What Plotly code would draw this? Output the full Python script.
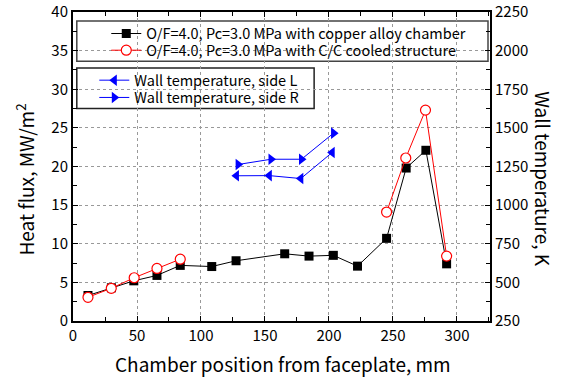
import plotly.graph_objects as go

# ---- data ----
cu_x = [11.7, 30.0, 47.5, 65.6, 83.8, 108.4, 127.4, 165.4, 184.4, 203.4, 222.3, 245.0, 260.3, 275.7, 291.9]
cu_y = [3.3, 4.3, 5.2, 5.9, 7.2, 7.05, 7.8, 8.7, 8.4, 8.5, 7.1, 10.7, 19.8, 22.1, 7.4]

cc_x = [11.7, 29.9, 47.8, 65.6, 83.8, None, 245.0, 260.0, 275.4, 291.9]
cc_y = [3.07, 4.23, 5.6, 6.8, 8.0, None, 14.1, 21.1, 27.3, 8.4]

wl_x = [127.7, 153.4, 178.0, 202.5]
wl_t = [1190, 1191, 1172, 1341]

wr_x = [129.0, 154.7, 178.5, 203.6]
wr_t = [1263, 1297, 1297, 1466]

FONT = "Noto Sans CJK JP"

fig = go.Figure()
fig.add_trace(go.Scatter(x=cu_x, y=cu_y, mode="lines+markers",
                         name="O/F=4.0, Pc=3.0 MPa with copper alloy chamber",
                         line=dict(color="black", width=1),
                         marker=dict(symbol="square", size=9, color="black"),
                         legend="legend"))
fig.add_trace(go.Scatter(x=cc_x, y=cc_y, mode="lines+markers",
                         name="O/F=4.0, Pc=3.0 MPa with C/C cooled structure",
                         line=dict(color="red", width=1),
                         marker=dict(symbol="circle", size=10, color="white",
                                     line=dict(color="red", width=1.2)),
                         connectgaps=False, legend="legend2"))
fig.add_trace(go.Scatter(x=wl_x, y=wl_t, mode="lines+markers", yaxis="y2",
                         name="Wall temperature, side L",
                         line=dict(color="blue", width=1),
                         marker=dict(symbol="triangle-left", size=10, color="blue"),
                         legend="legend3"))
fig.add_trace(go.Scatter(x=wr_x, y=wr_t, mode="lines+markers", yaxis="y2",
                         name="Wall temperature, side R",
                         line=dict(color="blue", width=1),
                         marker=dict(symbol="triangle-right", size=10, color="blue"),
                         legend="legend4"))

# plot-area edges in window pixels
L, R, T, B = 72.7, 490.0, 11.7, 321.0
W, H = 562, 378
pw, ph = R - L, B - T

def px(x):
    return (x - L) / pw

def py(y):
    return (B - y) / ph

def leg(xp, yp):
    return dict(x=px(xp), y=py(yp), xanchor="left", yanchor="middle",
                bgcolor="rgba(0,0,0,0)", borderwidth=0,
                font=dict(family=FONT, size=14.5), itemwidth=30, tracegroupgap=0)

fig.update_layout(
    width=W, height=H,
    margin=dict(l=L, r=W - R, t=T, b=H - B, autoexpand=False),
    paper_bgcolor="white", plot_bgcolor="white",
    font=dict(family=FONT, size=15, color="black"),
    showlegend=True,
    xaxis=dict(range=[0, 325.8], tickvals=[0, 50, 100, 150, 200, 250, 300],
               showgrid=True, gridcolor="#999", griddash="dot", gridwidth=1,
               showline=True, linecolor="black", linewidth=2, mirror="ticks",
               ticks="inside", ticklen=5, tickcolor="black", automargin=False,
               minor=dict(dtick=25, ticks="inside", ticklen=4, tickcolor="black", showgrid=False),
               zeroline=False, tickfont=dict(size=15)),
    yaxis=dict(range=[0, 40], dtick=5,
               showgrid=True, gridcolor="#999", griddash="dot", gridwidth=1,
               showline=True, linecolor="black", linewidth=2, automargin=False,
               ticks="inside", ticklen=5, tickcolor="black", ticklabeloverflow="allow",
               minor=dict(dtick=2.5, ticks="inside", ticklen=4, tickcolor="black", showgrid=False),
               zeroline=False, tickfont=dict(size=15)),
    yaxis2=dict(range=[250, 2250], dtick=250, overlaying="y", side="right",
                showgrid=False, showline=True, linecolor="black", linewidth=2,
                ticks="inside", ticklen=5, tickcolor="black", automargin=False,
                ticklabeloverflow="allow",
                minor=dict(dtick=125, ticks="inside", ticklen=4, tickcolor="black"),
                zeroline=False, tickfont=dict(size=15)),
    legend=leg(106, 33.3),
    legend2=leg(106, 50.0),
    legend3=leg(94, 80.0),
    legend4=leg(94, 97.3),
    shapes=[
        dict(type="rect", xref="paper", yref="paper",
             x0=px(76.5), x1=px(488), y0=py(61), y1=py(20.7),
             line=dict(color="#444", width=1.5), fillcolor="white", layer="below"),
        dict(type="rect", xref="paper", yref="paper",
             x0=px(76.5), x1=px(314), y0=py(108.3), y1=py(67.7),
             line=dict(color="#222", width=1.5), fillcolor="white", layer="below"),
    ],
    annotations=[
        dict(text="Chamber position from faceplate, mm", xref="paper", yref="paper",
             x=px(283), y=py(364), xanchor="center", yanchor="middle",
             showarrow=False, font=dict(size=19)),
        dict(text="Heat flux, MW/m<sup>2</sup>", xref="paper", yref="paper",
             x=px(25), y=py(179), xanchor="center", yanchor="middle", textangle=-90,
             showarrow=False, font=dict(size=19)),
        dict(text="Wall temperature, K", xref="paper", yref="paper",
             x=px(544), y=py(179), xanchor="center", yanchor="middle", textangle=90,
             showarrow=False, font=dict(size=19)),
    ],
)

fig.write_html("out.html", config={"displayModeBar": False},
               post_script="document.body.style.margin='0px';document.body.style.overflow='hidden';")
